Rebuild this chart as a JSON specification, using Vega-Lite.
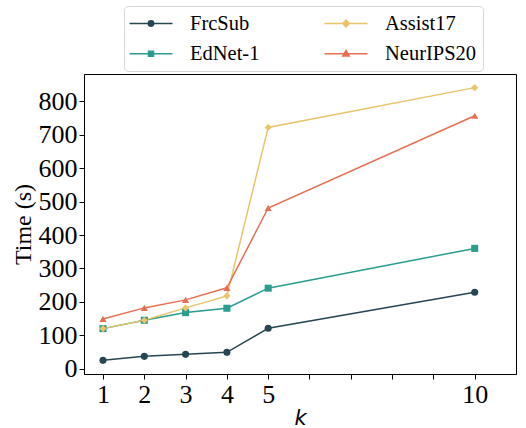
{
  "$schema": "https://vega.github.io/schema/vega-lite/v6.json",
  "width": 432,
  "height": 300,
  "autosize": "none",
  "padding": {"left": 84, "top": 74, "right": 10, "bottom": 54},
  "config": {
    "font": "Liberation Serif",
    "view": {"stroke": "black", "strokeWidth": 1},
    "axis": {
      "grid": false,
      "domainColor": "black",
      "tickColor": "black",
      "labelColor": "black",
      "titleColor": "black",
      "labelFont": "Liberation Serif",
      "titleFont": "Liberation Serif",
      "titleFontWeight": "normal",
      "tickSize": 5,
      "labelPadding": 2
    },
    "legend": {
      "orient": "none",
      "legendX": 40,
      "legendY": -68,
      "columns": 2,
      "labelFont": "Liberation Serif",
      "labelFontSize": 20.5,
      "labelColor": "black",
      "labelLimit": 0,
      "symbolSize": 400,
      "symbolOffset": 9.75,
      "symbolStrokeWidth": 1.5,
      "symbolOpacity": 1,
      "labelOffset": 28,
      "columnPadding": 61,
      "rowPadding": 8.5,
      "padding": 6.25,
      "strokeColor": "#d6d6d6",
      "fillColor": "white",
      "cornerRadius": 4
    }
  },
  "data": {
    "values": [
      {"k": 1, "dataset": "FrcSub", "time": 25},
      {"k": 2, "dataset": "FrcSub", "time": 37},
      {"k": 3, "dataset": "FrcSub", "time": 43},
      {"k": 4, "dataset": "FrcSub", "time": 49},
      {"k": 5, "dataset": "FrcSub", "time": 121},
      {"k": 10, "dataset": "FrcSub", "time": 229},
      {"k": 1, "dataset": "EdNet-1", "time": 120},
      {"k": 2, "dataset": "EdNet-1", "time": 145},
      {"k": 3, "dataset": "EdNet-1", "time": 168},
      {"k": 4, "dataset": "EdNet-1", "time": 181},
      {"k": 5, "dataset": "EdNet-1", "time": 241},
      {"k": 10, "dataset": "EdNet-1", "time": 360},
      {"k": 1, "dataset": "Assist17", "time": 120},
      {"k": 2, "dataset": "Assist17", "time": 145},
      {"k": 3, "dataset": "Assist17", "time": 182},
      {"k": 4, "dataset": "Assist17", "time": 218},
      {"k": 5, "dataset": "Assist17", "time": 722},
      {"k": 10, "dataset": "Assist17", "time": 841},
      {"k": 1, "dataset": "NeurIPS20", "time": 149},
      {"k": 2, "dataset": "NeurIPS20", "time": 182},
      {"k": 3, "dataset": "NeurIPS20", "time": 206},
      {"k": 4, "dataset": "NeurIPS20", "time": 242},
      {"k": 5, "dataset": "NeurIPS20", "time": 481},
      {"k": 10, "dataset": "NeurIPS20", "time": 757}
    ]
  },
  "encoding": {
    "x": {
      "field": "k",
      "type": "quantitative",
      "scale": {"domain": [0.54, 11], "nice": false, "zero": false},
      "axis": {
        "values": [1, 2, 3, 4, 5, 6, 7, 8, 9, 10],
        "labelExpr": "(datum.value <= 5 || datum.value == 10) ? datum.label : ''",
        "labelFontSize": 26,
        "labelFlush": false,
        "title": "k",
        "titleFont": "DejaVu Sans",
        "titleFontStyle": "italic",
        "titleFontSize": 21,
        "titlePadding": 0
      }
    },
    "y": {
      "field": "time",
      "type": "quantitative",
      "scale": {"domain": [-15.8, 881.8], "nice": false, "zero": false},
      "axis": {
        "values": [0, 100, 200, 300, 400, 500, 600, 700, 800],
        "labelFontSize": 26,
        "title": "Time (s)",
        "titleFontSize": 24,
        "titlePadding": 3
      }
    },
    "color": {
      "field": "dataset",
      "type": "nominal",
      "scale": {
        "domain": ["FrcSub", "EdNet-1", "Assist17", "NeurIPS20"],
        "range": ["#264653", "#2a9d8f", "#e9c46a", "#e76f51"]
      },
      "legend": {"title": null}
    }
  },
  "layer": [
    {"mark": {"type": "line", "strokeWidth": 1.5}},
    {
      "transform": [{"filter": "datum.dataset == 'FrcSub'"}],
      "mark": {"type": "point", "filled": true, "opacity": 1, "size": 50, "shape": "circle"}
    },
    {
      "transform": [{"filter": "datum.dataset == 'EdNet-1'"}],
      "mark": {"type": "point", "filled": true, "opacity": 1, "size": 50, "shape": "square"}
    },
    {
      "transform": [{"filter": "datum.dataset == 'Assist17'"}],
      "mark": {"type": "point", "filled": true, "opacity": 1, "size": 50, "shape": "diamond"}
    },
    {
      "transform": [{"filter": "datum.dataset == 'NeurIPS20'"}],
      "mark": {"type": "point", "filled": true, "opacity": 1, "size": 50, "shape": "triangle-up"}
    },
    {
      "transform": [{"filter": "datum.k < 0"}],
      "mark": {"type": "point", "filled": true, "opacity": 1, "strokeWidth": 1.5},
      "encoding": {
        "stroke": {
          "field": "dataset",
          "type": "nominal",
          "scale": {
            "domain": ["FrcSub", "EdNet-1", "Assist17", "NeurIPS20"],
            "range": ["#264653", "#2a9d8f", "#e9c46a", "#e76f51"]
          },
          "legend": {"title": null}
        },
        "shape": {
          "field": "dataset",
          "type": "nominal",
          "scale": {
            "domain": ["FrcSub", "EdNet-1", "Assist17", "NeurIPS20"],
            "range": [
              "M-2.15,0H2.15M0.27,0A0.27,0.27,0,1,1,-0.27,0A0.27,0.27,0,1,1,0.27,0Z",
              "M-2.15,0H2.15M-0.25,-0.25H0.25V0.25H-0.25Z",
              "M-2.15,0H2.15M0,-0.34L0.34,0L0,0.34L-0.34,0Z",
              "M-2.15,0H2.15M0,-0.33L0.32,0.22L-0.32,0.22Z"
            ]
          },
          "legend": {"title": null}
        }
      }
    }
  ]
}
